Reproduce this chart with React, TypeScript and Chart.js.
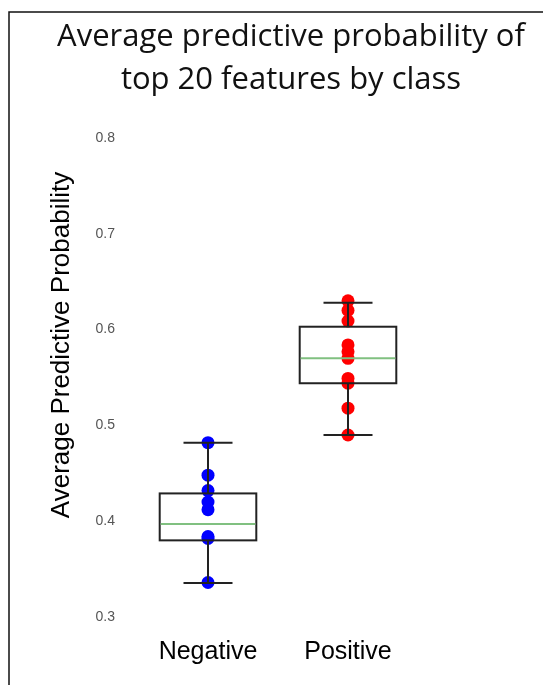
import React, { useEffect, useRef } from "react";
import { Chart, registerables } from "chart.js";

Chart.register(...registerables);

const categories = ["Negative", "Positive"];
const titleLines = ["Average predictive probability of", "top 20 features by class"];
const yAxisTitle = "Average Predictive Probability";

const negativeValues = [0.482, 0.448, 0.432, 0.42, 0.412, 0.384, 0.382, 0.336];
const positiveValues = [0.63, 0.62, 0.609, 0.584, 0.577, 0.57, 0.549, 0.544, 0.518, 0.49];

// [min, q1, median, q3, max]
const negativeBox = [0.3355, 0.38, 0.397, 0.429, 0.482];
const positiveBox = [0.49, 0.544, 0.57, 0.603, 0.628];

const yTicks = [0.3, 0.4, 0.5, 0.6, 0.7, 0.8];

const boxes = [negativeBox, positiveBox];

const boxPlugin = {
  id: "boxPlugin",
  afterDatasetsDraw(chart: any) {
    const { ctx, scales } = chart;
    const x = scales.x;
    const y = scales.y;
    const spacing = x.getPixelForValue(1) - x.getPixelForValue(0);
    const half = spacing * 0.345;
    const cap = spacing * 0.175;
    boxes.forEach((b, i) => {
      const cx = x.getPixelForValue(i);
      const [mn, q1, med, q3, mx] = b.map((v) => y.getPixelForValue(v));
      ctx.save();
      ctx.strokeStyle = "#222";
      ctx.lineWidth = 2;
      ctx.beginPath();
      ctx.moveTo(cx, q3);
      ctx.lineTo(cx, mx);
      ctx.moveTo(cx, q1);
      ctx.lineTo(cx, mn);
      ctx.moveTo(cx - cap, mx);
      ctx.lineTo(cx + cap, mx);
      ctx.moveTo(cx - cap, mn);
      ctx.lineTo(cx + cap, mn);
      ctx.stroke();
      ctx.strokeRect(cx - half, q3, half * 2, q1 - q3);
      ctx.strokeStyle = "#80c080";
      ctx.beginPath();
      ctx.moveTo(cx - half + 1, med);
      ctx.lineTo(cx + half - 1, med);
      ctx.stroke();
      ctx.restore();
    });
  },
  afterDraw(chart: any) {
    const { ctx } = chart;
    ctx.save();
    ctx.strokeStyle = "#111";
    ctx.lineWidth = 1.5;
    ctx.beginPath();
    ctx.moveTo(9, 685);
    ctx.lineTo(9, 12);
    ctx.lineTo(543, 12);
    ctx.stroke();
    ctx.fillStyle = "#111";
    ctx.font = "31px 'Open Sans'";
    ctx.textAlign = "center";
    ctx.textBaseline = "alphabetic";
    ctx.fillText(titleLines[0], 291, 46);
    ctx.fillText(titleLines[1], 291, 89);
    ctx.translate(62, 345);
    ctx.rotate(-Math.PI / 2);
    ctx.font = "26px 'Liberation Sans'";
    ctx.textBaseline = "middle";
    ctx.fillStyle = "#000";
    ctx.fillText(yAxisTitle, 0, 0);
    ctx.restore();
  },
};

export default function App() {
  const ref = useRef<HTMLCanvasElement>(null);
  useEffect(() => {
    if (!ref.current) return;
    const chart = new Chart(ref.current, {
      type: "scatter",
      data: {
        labels: categories,
        datasets: [
          {
            data: negativeValues.map((v) => ({ x: categories[0], y: v })) as any,
            backgroundColor: "#0000ff",
            borderWidth: 0,
            pointRadius: 6.5,
          },
          {
            data: positiveValues.map((v) => ({ x: categories[1], y: v })) as any,
            backgroundColor: "#ff0000",
            borderWidth: 0,
            pointRadius: 6.5,
          },
        ],
      },
      options: {
        responsive: false,
        animation: false,
        layout: { padding: { top: 138, right: 125, bottom: 0, left: 0 } },
        plugins: { legend: { display: false }, title: { display: false }, tooltip: { enabled: false } },
        scales: {
          x: {
            type: "category",
            labels: categories,
            offset: true,
            grid: { display: false, drawTicks: false },
            border: { display: false },
            ticks: { color: "#000", font: { family: "'Liberation Sans'", size: 25 }, padding: 20 },
            afterFit: (s: any) => {
              s.height = 68;
            },
          },
          y: {
            type: "linear",
            min: 0.3,
            max: 0.8,
            grid: { display: false, drawTicks: false },
            border: { display: false },
            afterBuildTicks: (s: any) => {
              s.ticks = yTicks.map((v) => ({ value: v }));
            },
            ticks: {
              color: "#555",
              font: { family: "'Liberation Sans'", size: 14 },
              padding: 23,
              callback: (v: any) => Number(v).toFixed(1),
            },
            afterFit: (s: any) => {
              s.width = 138;
            },
          },
        },
      },
      plugins: [boxPlugin],
    });
    return () => chart.destroy();
  }, []);
  return (
    <canvas
      ref={ref}
      width={543}
      height={685}
      style={{ position: "absolute", left: 0, top: 0, display: "block" }}
    />
  );
}
